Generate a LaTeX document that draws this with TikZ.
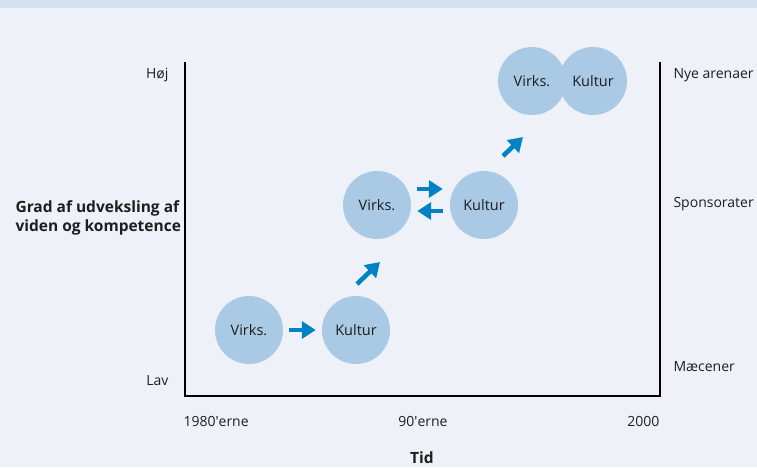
\documentclass[tikz,border=0pt]{standalone}
\usepackage{fontspec}
\setmainfont{Open Sans}
\usetikzlibrary{arrows.meta}
\usetikzlibrary{positioning}

\definecolor{bgblue}{RGB}{238,242,248}
\definecolor{bandblue}{RGB}{212,225,240}
\definecolor{bubble}{RGB}{169,201,228}
\definecolor{flowblue}{RGB}{0,130,196}
\definecolor{ink}{RGB}{30,30,30}

\begin{document}
\begin{tikzpicture}[x=1pt,y=-1pt,
  every node/.style={font=\fontsize{14}{17}\selectfont,text=ink},
  felt/.style={circle,fill=bubble,minimum size=68pt,inner sep=0pt,font=\fontsize{14.5}{17}\selectfont},
  flow/.style={draw=flowblue,line width=4.6pt,-{Triangle[length=14pt,width=17pt]}},
  akse/.style={line width=1.8pt,black},
  overskrift/.style={font=\bfseries\fontsize{15.5}{19}\selectfont,align=left}]
  \useasboundingbox (0,0) rectangle (757,467);
  \fill[bgblue] (0,0) rectangle (757,467);
  \fill[bandblue] (0,0) rectangle (757,8);

  % akser
  \draw[akse] (185,62) -- (185,396) -- (660,396) -- (660,62);

  % felter
  \node[felt] (v1) at (249,330) {Virks.};
  \node[felt] (k1) at (356,330) {Kultur};
  \node[felt] (v2) at (377,205) {Virks.};
  \node[felt] (k2) at (484,205) {Kultur};
  \node[felt] (v3) at (532,81) {};
  \node[felt] (k3) at (593,81) {};
  \node[font=\fontsize{14.5}{17}\selectfont] at (v3) {Virks.};
  \node[font=\fontsize{14.5}{17}\selectfont] at (k3) {Kultur};

  % pile
  \draw[flow,shorten <=6pt,shorten >=6pt] (v1) -- (k1);
  \draw[flow,shorten <=6pt,shorten >=7pt] ([yshift=16pt]v2.east) -- ([yshift=16pt]k2.west);
  \draw[flow,shorten <=7pt,shorten >=6pt] ([yshift=-6pt]k2.west) -- ([yshift=-6pt]v2.east);
  \coordinate (p1) at (357,284);
  \coordinate (p2) at (380,262);
  \coordinate (p3) at (503,156);
  \coordinate (p4) at (523,137);
  \draw[flow] (p1) -- (p2);
  \draw[flow] (p3) -- (p4);

  % y-akse
  \node[anchor=east] (hoj) at (172,75) {Høj};
  \node[anchor=east] (lav) at (172,381) {Lav};
  \node[overskrift,anchor=west] (grad) at (12,218) {Grad af udveksling af\\viden og kompetence};
  \node[anchor=west] (nye) at (670,75) {Nye arenaer};
  \node[anchor=west] (spon) at (670,204) {Sponsorater};
  \node[anchor=west] (maec) at (670,367) {Mæcener};

  % x-akse
  \node[anchor=west] (t80) at (180,421) {1980\textquotesingle erne};
  \node (t90) at (423,421) {90\textquotesingle erne};
  \node[anchor=east] (t00) at (663,421) {2000};
  \node[font=\bfseries\fontsize{15.5}{18}\selectfont] (tid) at (422,458) {Tid};
\end{tikzpicture}
\end{document}
